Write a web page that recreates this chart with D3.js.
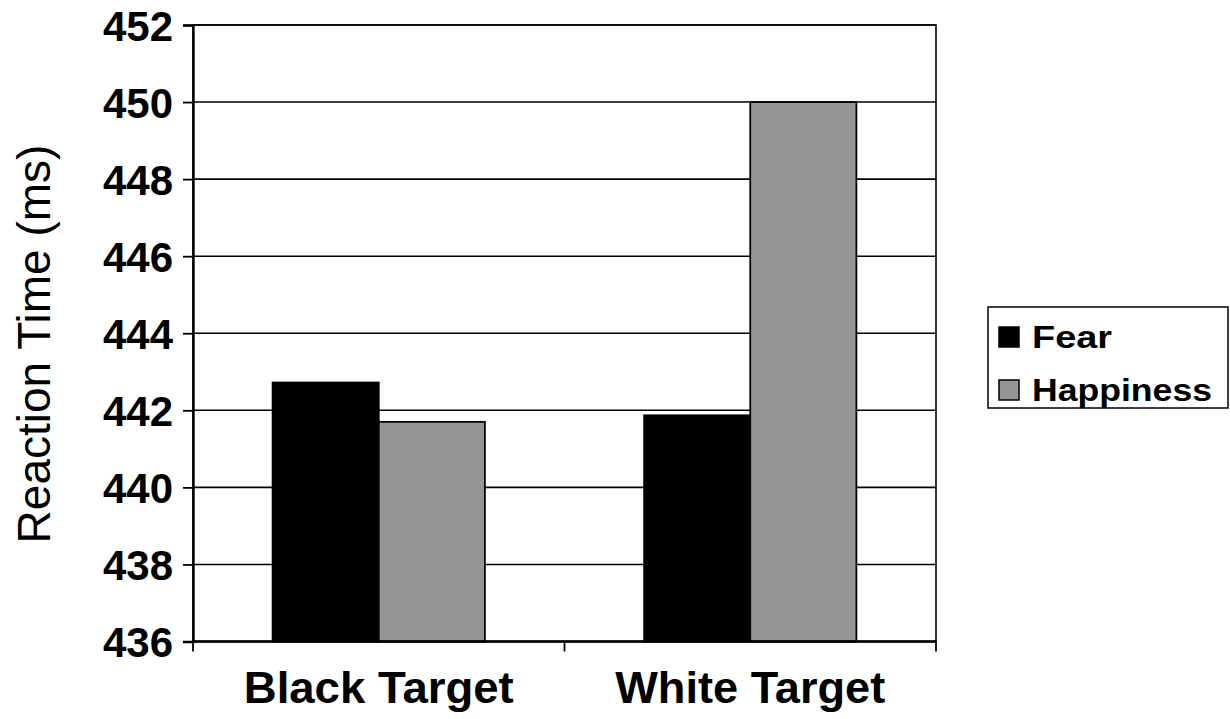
<!DOCTYPE html>
<html>
<head>
<meta charset="utf-8">
<script src="https://cdn.jsdelivr.net/npm/d3@7"></script>
<style>
  html, body { margin: 0; padding: 0; background: #fff; }
  svg { display: block; font-family: "Liberation Sans", Arial, sans-serif; }
</style>
</head>
<body>
<svg id="chart" width="1230" height="719"></svg>
<script>
// Mean reaction times by target race and facial expression
const categories = ["Black Target", "White Target"];
const seriesNames = ["Fear", "Happiness"];
const fearValues = [442.72, 441.87];
const happinessValues = [441.70, 450.0];
const yTicks = [436, 438, 440, 442, 444, 446, 448, 450, 452];
const seriesColors = ["#000000", "#969696"];

const svg = d3.select("#chart");
const plot = { left: 193, right: 936, top: 25, bottom: 641.5 };

const x = d3.scaleBand().domain(categories).range([plot.left, plot.right]).paddingInner(0).paddingOuter(0);
const y = d3.scaleLinear().domain([436, 452]).range([plot.bottom, plot.top]);
// bars take 2/3.5 of each category band (gap = 1.5 bar widths)
const barW = x.bandwidth() / 3.5;
const xs = d3.scaleBand().domain(seriesNames).range([0, barW * 2]);

// gridlines
svg.append("g")
  .selectAll("line")
  .data(yTicks)
  .join("line")
  .attr("x1", plot.left).attr("x2", plot.right)
  .attr("y1", d => y(d)).attr("y2", d => y(d))
  .attr("stroke", "#000").attr("stroke-width", 1.6);

// bars
const rows = categories.map((c, i) => ({ cat: c, vals: [fearValues[i], happinessValues[i]] }));
const groups = svg.append("g").selectAll("g")
  .data(rows).join("g")
  .attr("transform", d => `translate(${x(d.cat) + x.bandwidth() / 2 - barW},0)`);
groups.selectAll("rect")
  .data(d => d.vals.map((v, j) => ({ name: seriesNames[j], v, j })))
  .join("rect")
  .attr("x", d => xs(d.name))
  .attr("width", xs.bandwidth())
  .attr("y", d => y(d.v))
  .attr("height", d => y(436) - y(d.v))
  .attr("fill", d => seriesColors[d.j])
  .attr("stroke", "#000").attr("stroke-width", 1.8);

// plot area border
svg.append("rect")
  .attr("x", plot.left).attr("y", plot.top)
  .attr("width", plot.right - plot.left).attr("height", plot.bottom - plot.top)
  .attr("fill", "none").attr("stroke", "#000").attr("stroke-width", 1.6);

// y axis
const yAxis = d3.axisLeft(y).tickValues(yTicks).tickSize(10).tickPadding(10).tickFormat(d3.format("d"));
const gy = svg.append("g").attr("transform", `translate(${plot.left},0)`).call(yAxis);
gy.select(".domain").attr("stroke", "#000").attr("stroke-width", 2.4);
gy.selectAll(".tick line").attr("stroke", "#000").attr("stroke-width", 1.8);
gy.selectAll(".tick text")
  .attr("font-size", 42).attr("font-weight", "bold").attr("fill", "#000")
  .attr("dy", "0.36em");

// x axis: ticks at category boundaries
const boundaries = [plot.left, ...categories.slice(1).map(c => x(c)), plot.right];
const gx = svg.append("g");
gx.append("line")
  .attr("x1", plot.left).attr("x2", plot.right)
  .attr("y1", plot.bottom).attr("y2", plot.bottom)
  .attr("stroke", "#000").attr("stroke-width", 2.4);
gx.selectAll("line.tk").data(boundaries).join("line").attr("class", "tk")
  .attr("x1", d => d).attr("x2", d => d)
  .attr("y1", plot.bottom).attr("y2", plot.bottom + 10)
  .attr("stroke", "#000").attr("stroke-width", 1.8);
gx.selectAll("text").data(categories).join("text")
  .attr("x", d => x(d) + x.bandwidth() / 2)
  .attr("y", 703)
  .attr("text-anchor", "middle")
  .attr("font-size", 44).attr("font-weight", "bold")
  .attr("textLength", 270).attr("lengthAdjust", "spacingAndGlyphs")
  .text(d => d);

// y axis title
svg.append("text")
  .attr("transform", "translate(50,344) rotate(-90)")
  .attr("text-anchor", "middle")
  .attr("font-size", 46)
  .text("Reaction Time (ms)");

// legend
const lg = svg.append("g");
lg.append("rect")
  .attr("x", 988).attr("y", 307).attr("width", 240).attr("height", 101)
  .attr("fill", "#fff").attr("stroke", "#000").attr("stroke-width", 1.5);
const items = lg.selectAll("g.item").data(seriesNames).join("g").attr("class", "item")
  .attr("transform", (d, i) => `translate(0,${i * 53})`);
items.append("rect")
  .attr("x", 999).attr("y", 327).attr("width", 20).attr("height", 20)
  .attr("fill", (d, i) => seriesColors[i]).attr("stroke", "#000").attr("stroke-width", 1.5);
items.append("text")
  .attr("x", 1032).attr("y", 348)
  .attr("font-size", 32).attr("font-weight", "bold")
  .attr("textLength", (d, i) => i === 0 ? 80 : 180).attr("lengthAdjust", "spacingAndGlyphs")
  .text(d => d);
</script>
</body>
</html>
